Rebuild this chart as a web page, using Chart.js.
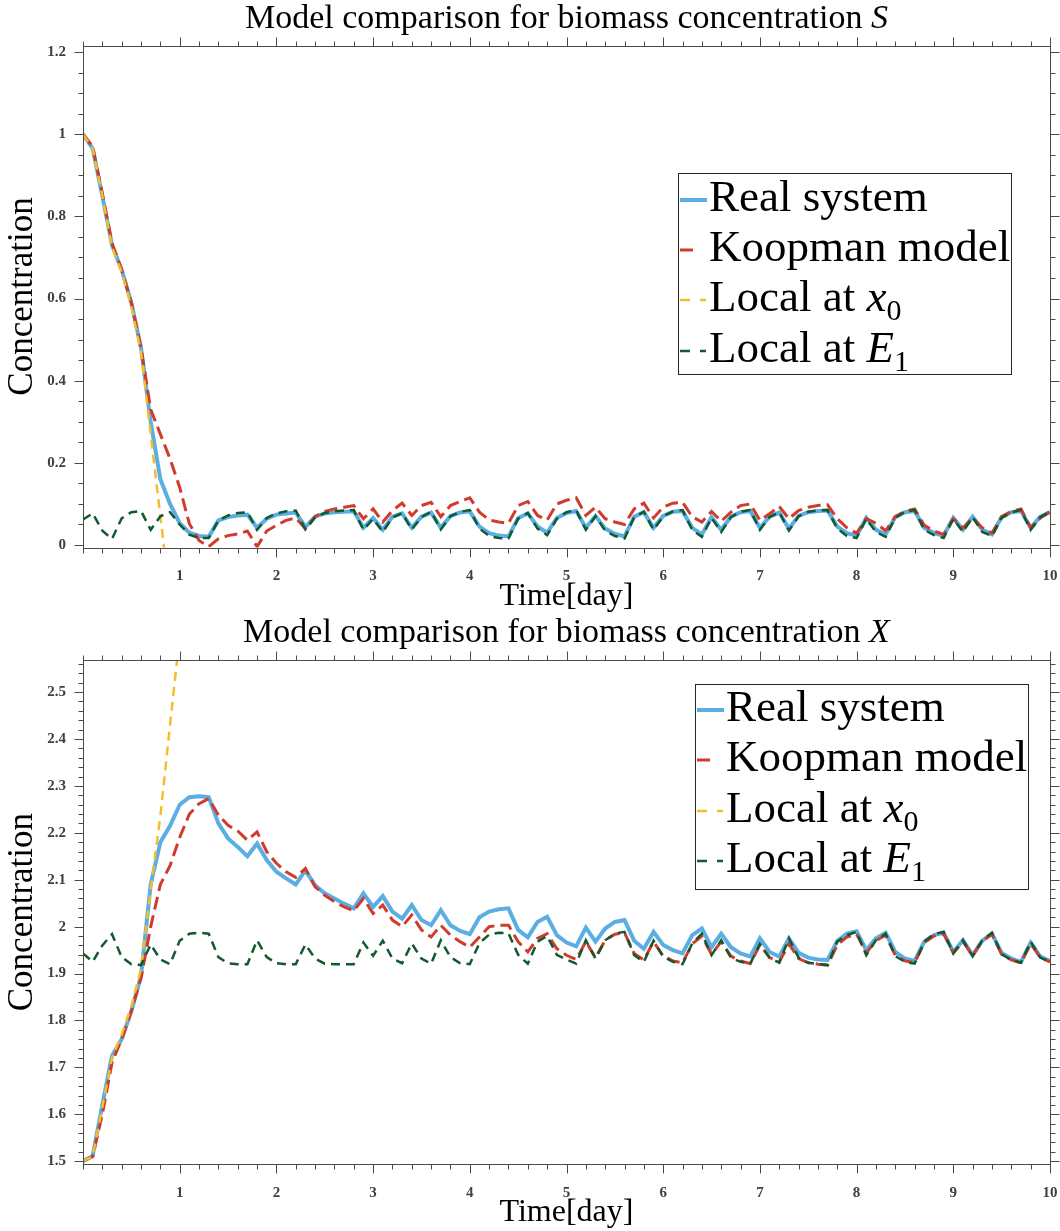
<!DOCTYPE html>
<html>
<head>
<meta charset="utf-8">
<title>Model comparison for biomass concentration</title>
<script src="https://cdn.jsdelivr.net/npm/chart.js@4.4.1/dist/chart.umd.min.js"></script>
<style>
  body { margin: 0; background: #fff; }
  #page { position: relative; width: 1060px; height: 1231px; font-family: 'Liberation Serif', 'Times New Roman', serif; color: #000; }
  .panel { position: absolute; left: 0; width: 1060px; }
  .panel canvas { position: absolute; left: 0; top: 0; }
  .plot-title { position: absolute; left: 83px; width: 967px; text-align: center; font-size: 34px; line-height: 34px; white-space: nowrap; }
  .legend { position: absolute; box-sizing: border-box; border: 1px solid #262626; background: #fff; }
  .legend .row { position: absolute; left: 0; right: 0; height: 50px; font-size: 45px; line-height: 50px; white-space: nowrap; }
  .legend svg { position: absolute; left: 1px; top: 24px; }
  .legend span { position: absolute; left: 30px; top: 0; }
  .legend sub { font-size: 30px; vertical-align: baseline; position: relative; top: 9px; }
</style>
</head>
<body>
<div id="page">
  <div class="panel" style="top:0; height:615px;">
    <canvas id="chartS" width="1060" height="615"></canvas>
    <div class="plot-title" style="top:0px;">Model comparison for biomass concentration <i>S</i></div>
    <div class="legend" style="left:678px; top:173px; width:334px; height:202px;">
      <div class="row" style="top:-3px;"><svg width="28" height="10"><line x1="0" y1="5" x2="27" y2="5" stroke="#5AAEE3" stroke-width="4"/></svg><span>Real system</span></div>
      <div class="row" style="top:47px;"><svg width="28" height="10"><line x1="0" y1="5" x2="13" y2="5" stroke="#D13B2C" stroke-width="3"/></svg><span>Koopman model</span></div>
      <div class="row" style="top:97px;"><svg width="28" height="10"><line x1="0" y1="5" x2="26" y2="5" stroke="#F2BE2C" stroke-width="2.5" stroke-dasharray="10 10"/></svg><span>Local at <i>x</i><sub>0</sub></span></div>
      <div class="row" style="top:148px;"><svg width="28" height="10"><line x1="0" y1="5" x2="26" y2="5" stroke="#125A2E" stroke-width="2.5" stroke-dasharray="10 10"/></svg><span>Local at <i>E</i><sub>1</sub></span></div>
    </div>
  </div>
  <div class="panel" style="top:615px; height:616px;">
    <canvas id="chartX" width="1060" height="616"></canvas>
    <div class="plot-title" style="top:-1px;">Model comparison for biomass concentration <i>X</i></div>
    <div class="legend" style="left:695px; top:69px; width:334px; height:206px;">
      <div class="row" style="top:-4px;"><svg width="28" height="10"><line x1="0" y1="5" x2="27" y2="5" stroke="#5AAEE3" stroke-width="4"/></svg><span>Real system</span></div>
      <div class="row" style="top:46px;"><svg width="28" height="10"><line x1="0" y1="5" x2="13" y2="5" stroke="#D13B2C" stroke-width="3"/></svg><span>Koopman model</span></div>
      <div class="row" style="top:97px;"><svg width="28" height="10"><line x1="0" y1="5" x2="26" y2="5" stroke="#F2BE2C" stroke-width="2.5" stroke-dasharray="10 10"/></svg><span>Local at <i>x</i><sub>0</sub></span></div>
      <div class="row" style="top:147px;"><svg width="28" height="10"><line x1="0" y1="5" x2="26" y2="5" stroke="#125A2E" stroke-width="2.5" stroke-dasharray="10 10"/></svg><span>Local at <i>E</i><sub>1</sub></span></div>
    </div>
  </div>
</div>
<script>
// time axis [day]
var time = [0, 0.1, 0.2, 0.3, 0.4, 0.5, 0.6, 0.7, 0.8, 0.9,
    1, 1.1, 1.2, 1.3, 1.4, 1.5, 1.6, 1.7, 1.8, 1.9,
    2, 2.1, 2.2, 2.3, 2.4, 2.5, 2.6, 2.7, 2.8, 2.9,
    3, 3.1, 3.2, 3.3, 3.4, 3.5, 3.6, 3.7, 3.8, 3.9,
    4, 4.1, 4.2, 4.3, 4.4, 4.5, 4.6, 4.7, 4.8, 4.9,
    5, 5.1, 5.2, 5.3, 5.4, 5.5, 5.6, 5.7, 5.8, 5.9,
    6, 6.1, 6.2, 6.3, 6.4, 6.5, 6.6, 6.7, 6.8, 6.9,
    7, 7.1, 7.2, 7.3, 7.4, 7.5, 7.6, 7.7, 7.8, 7.9,
    8, 8.1, 8.2, 8.3, 8.4, 8.5, 8.6, 8.7, 8.8, 8.9,
    9, 9.1, 9.2, 9.3, 9.4, 9.5, 9.6, 9.7, 9.8, 9.9, 10];

var seriesNames = ['Real system', 'Koopman model', 'Local at x0', 'Local at E1'];

// concentration S
var realS = [1.0, 0.965, 0.85, 0.73, 0.67, 0.59, 0.48, 0.3, 0.16, 0.1,
    0.053, 0.03, 0.022, 0.02, 0.06, 0.068, 0.072, 0.074, 0.042, 0.064,
    0.074, 0.077, 0.079, 0.044, 0.069, 0.077, 0.08, 0.081, 0.082, 0.042,
    0.066, 0.037, 0.069, 0.077, 0.042, 0.069, 0.079, 0.042, 0.071, 0.079,
    0.082, 0.045, 0.029, 0.023, 0.021, 0.066, 0.077, 0.045, 0.03, 0.066,
    0.078, 0.083, 0.042, 0.071, 0.04, 0.027, 0.021, 0.069, 0.08, 0.042,
    0.071, 0.081, 0.083, 0.042, 0.026, 0.068, 0.037, 0.069, 0.08, 0.083,
    0.042, 0.069, 0.079, 0.04, 0.071, 0.08, 0.083, 0.084, 0.045, 0.029,
    0.023, 0.066, 0.037, 0.026, 0.068, 0.08, 0.083, 0.042, 0.029, 0.023,
    0.066, 0.037, 0.069, 0.037, 0.026, 0.068, 0.08, 0.083, 0.042, 0.069, 0.08];
var koopmanS = [1.0, 0.97, 0.855, 0.735, 0.67, 0.59, 0.48, 0.33, 0.27, 0.21,
    0.14, 0.052, 0.011, -0.004, 0.015, 0.023, 0.027, 0.034, -0.004, 0.034,
    0.048, 0.06, 0.066, 0.04, 0.069, 0.082, 0.088, 0.092, 0.096, 0.064,
    0.088, 0.056, 0.084, 0.102, 0.072, 0.096, 0.104, 0.069, 0.096, 0.106,
    0.115, 0.08, 0.061, 0.056, 0.053, 0.096, 0.106, 0.072, 0.061, 0.1,
    0.109, 0.115, 0.072, 0.092, 0.064, 0.056, 0.05, 0.088, 0.102, 0.066,
    0.092, 0.102, 0.104, 0.069, 0.056, 0.082, 0.058, 0.08, 0.096, 0.1,
    0.06, 0.076, 0.094, 0.064, 0.084, 0.092, 0.096, 0.098, 0.064, 0.042,
    0.029, 0.064, 0.053, 0.035, 0.069, 0.082, 0.088, 0.048, 0.034, 0.026,
    0.064, 0.042, 0.066, 0.042, 0.029, 0.069, 0.082, 0.088, 0.042, 0.066, 0.082];
var localX0S = [1.0, 0.965, 0.85, 0.725, 0.665, 0.58, 0.47, 0.27, 0.07, -0.13];
var localE1S = [0.062, 0.077, 0.035, 0.015, 0.065, 0.08, 0.083, 0.037, 0.07, 0.08,
    0.05, 0.025, 0.017, 0.017, 0.06, 0.072, 0.078, 0.08, 0.037, 0.066,
    0.077, 0.082, 0.084, 0.038, 0.067, 0.078, 0.082, 0.084, 0.085, 0.037,
    0.064, 0.032, 0.067, 0.078, 0.038, 0.068, 0.081, 0.038, 0.07, 0.081,
    0.085, 0.04, 0.022, 0.017, 0.016, 0.064, 0.078, 0.04, 0.024, 0.064,
    0.08, 0.085, 0.037, 0.07, 0.035, 0.022, 0.016, 0.068, 0.081, 0.037,
    0.07, 0.082, 0.085, 0.037, 0.02, 0.066, 0.032, 0.068, 0.081, 0.085,
    0.037, 0.068, 0.08, 0.035, 0.07, 0.081, 0.084, 0.085, 0.04, 0.022,
    0.017, 0.064, 0.032, 0.02, 0.066, 0.081, 0.085, 0.037, 0.024, 0.017,
    0.064, 0.032, 0.068, 0.032, 0.022, 0.066, 0.08, 0.085, 0.037, 0.068, 0.08];

// concentration X
var realX = [1.5, 1.511, 1.62, 1.725, 1.76, 1.82, 1.895, 2.09, 2.18, 2.215,
    2.26, 2.276, 2.278, 2.276, 2.22, 2.188, 2.17, 2.15, 2.177, 2.142,
    2.117, 2.103, 2.09, 2.12, 2.088, 2.071, 2.06, 2.049, 2.039, 2.071,
    2.042, 2.065, 2.032, 2.017, 2.046, 2.014, 2.003, 2.035, 2.003, 1.991,
    1.984, 2.02, 2.032, 2.037, 2.039, 1.993, 1.977, 2.01, 2.021, 1.982,
    1.966, 1.958, 1.998, 1.968, 1.996, 2.01, 2.014, 1.97, 1.953, 1.989,
    1.961, 1.95, 1.943, 1.982, 1.996, 1.956, 1.985, 1.956, 1.943, 1.936,
    1.975, 1.946, 1.936, 1.975, 1.944, 1.934, 1.93, 1.929, 1.97, 1.985,
    1.99, 1.95, 1.975, 1.987, 1.946, 1.932, 1.927, 1.968, 1.982, 1.987,
    1.946, 1.971, 1.939, 1.97, 1.985, 1.944, 1.932, 1.925, 1.966, 1.936, 1.927];
var koopmanX = [1.5, 1.51, 1.6, 1.71, 1.76, 1.82, 1.89, 2.0, 2.09, 2.13,
    2.19, 2.24, 2.262, 2.273, 2.238, 2.216, 2.204, 2.184, 2.202, 2.16,
    2.135, 2.117, 2.105, 2.124, 2.085, 2.067, 2.053, 2.042, 2.034, 2.06,
    2.028, 2.046, 2.014, 2.0, 2.025, 1.993, 1.978, 2.003, 1.982, 1.968,
    1.956, 1.978, 2.0, 2.003, 2.003, 1.968, 1.946, 1.975, 1.985, 1.953,
    1.939, 1.93, 1.968, 1.934, 1.971, 1.984, 1.987, 1.943, 1.929, 1.968,
    1.937, 1.927, 1.923, 1.963, 1.98, 1.941, 1.968, 1.937, 1.927, 1.921,
    1.961, 1.934, 1.925, 1.963, 1.932, 1.923, 1.92, 1.918, 1.961, 1.978,
    1.984, 1.944, 1.97, 1.982, 1.939, 1.927, 1.923, 1.966, 1.98, 1.985,
    1.944, 1.968, 1.939, 1.97, 1.984, 1.941, 1.929, 1.923, 1.964, 1.934, 1.925];
var localX0X = [1.5, 1.51, 1.615, 1.72, 1.77, 1.83, 1.91, 2.08, 2.235, 2.43, 2.62];
var localE1X = [1.943, 1.925, 1.96, 1.984, 1.935, 1.92, 1.918, 1.962, 1.93, 1.92,
    1.97, 1.985, 1.987, 1.985, 1.935, 1.922, 1.92, 1.92, 1.971, 1.935,
    1.922, 1.92, 1.92, 1.962, 1.932, 1.921, 1.92, 1.92, 1.92, 1.966,
    1.938, 1.97, 1.932, 1.922, 1.964, 1.932, 1.921, 1.971, 1.935, 1.922,
    1.92, 1.965, 1.983, 1.987, 1.986, 1.94, 1.921, 1.968, 1.98, 1.94,
    1.93, 1.921, 1.971, 1.932, 1.971, 1.985, 1.989, 1.939, 1.925, 1.97,
    1.936, 1.925, 1.92, 1.964, 1.985, 1.939, 1.971, 1.934, 1.925, 1.921,
    1.963, 1.934, 1.923, 1.975, 1.934, 1.923, 1.92, 1.918, 1.968, 1.982,
    1.989, 1.939, 1.971, 1.985, 1.937, 1.925, 1.921, 1.968, 1.984, 1.989,
    1.943, 1.971, 1.937, 1.971, 1.987, 1.941, 1.929, 1.923, 1.968, 1.934, 1.925];

var blue = '#5AAEE3';
var red = '#D13B2C';
var yellow = '#F2BE2C';
var green = '#125A2E';
var axisColor = '#4a4a4a';
var serif = "'Liberation Serif', 'Times New Roman', serif";

Chart.defaults.font.family = serif;
Chart.defaults.animation = false;

// box around the plot with outward ticks on all four sides
var boxTicks = {
    id: 'boxTicks',
    afterDraw: function (chart) {
        var ctx = chart.ctx;
        var a = chart.chartArea;
        var x = chart.scales.x;
        var y = chart.scales.y;
        var L = Math.round(a.left) + 0.5, R = Math.round(a.right) + 0.5;
        var T = Math.round(a.top) + 0.5, B = Math.round(a.bottom) + 0.5;

        ctx.save();
        ctx.strokeStyle = axisColor;
        ctx.lineWidth = 1;
        ctx.strokeRect(L, T, R - L, B - T);
        ctx.beginPath();
        x.ticks.forEach(function (t) {
            var px = Math.round(x.getPixelForValue(t.value)) + 0.5;
            var len = t.label ? 9 : 5;
            ctx.moveTo(px, B); ctx.lineTo(px, B + len);
            ctx.moveTo(px, T); ctx.lineTo(px, T - len);
        });
        y.ticks.forEach(function (t) {
            var py = Math.round(y.getPixelForValue(t.value)) + 0.5;
            var len = t.label ? 9 : 5;
            ctx.moveTo(L, py); ctx.lineTo(L - len, py);
            ctx.moveTo(R, py); ctx.lineTo(R + len, py);
        });
        ctx.stroke();
        ctx.restore();
    }
};

function lineSet(label, data, color, width, dash, order) {
    return {
        label: label,
        data: data.map(function (v, i) { return {x: time[i], y: v}; }),
        borderColor: color,
        backgroundColor: color,
        borderWidth: width,
        borderDash: dash,
        pointRadius: 0,
        tension: 0,
        fill: false,
        order: order
    };
}

function drawPanel(canvasId, series, yMin, yMax, yStep, yMajor, plotTop, xHeight) {
    var tickFont = {family: serif, size: 15, weight: 'bold'};

    new Chart(document.getElementById(canvasId), {
        type: 'line',
        data: {
            datasets: [
                lineSet(seriesNames[0], series[0], blue, 4, [], 4),
                lineSet(seriesNames[1], series[1], red, 3, [13, 6], 3),
                lineSet(seriesNames[2], series[2], yellow, 2.5, [9, 6], 2),
                lineSet(seriesNames[3], series[3], green, 2.5, [9, 6], 1)
            ]
        },
        options: {
            responsive: false,
            layout: {padding: {top: plotTop, right: 10, bottom: 0, left: 0}},
            plugins: {
                legend: {display: false},
                tooltip: {enabled: false}
            },
            scales: {
                x: {
                    type: 'linear',
                    min: 0,
                    max: 10,
                    afterFit: function (scale) {
                        scale.height = xHeight;
                        scale.paddingLeft = 0;
                        scale.paddingRight = 0;
                    },
                    grid: {display: false, drawTicks: false},
                    border: {display: false},
                    ticks: {
                        stepSize: 0.2,
                        autoSkip: false,
                        maxRotation: 0,
                        includeBounds: false,
                        padding: 20,
                        color: '#404040',
                        font: tickFont,
                        callback: function (v) {
                            var r = Math.round(v * 1000) / 1000;
                            return (Number.isInteger(r) && r > 0) ? String(r) : '';
                        }
                    },
                    title: {
                        display: true,
                        text: 'Time[day]',
                        color: '#000',
                        font: {family: serif, size: 32, lineHeight: 1},
                        padding: {top: 0, bottom: 2}
                    }
                },
                y: {
                    type: 'linear',
                    min: yMin,
                    max: yMax,
                    afterFit: function (scale) {
                        scale.width = 83;
                        scale.paddingTop = 0;
                        scale.paddingBottom = 0;
                    },
                    grid: {display: false, drawTicks: false},
                    border: {display: false},
                    ticks: {
                        stepSize: yStep,
                        autoSkip: false,
                        includeBounds: false,
                        padding: 17,
                        color: '#404040',
                        font: tickFont,
                        callback: function (v) {
                            var k = v / yMajor;
                            if (Math.abs(k - Math.round(k)) > 1e-6) {
                                return '';
                            }
                            return String(Math.round(Math.round(k) * yMajor * 10) / 10);
                        }
                    },
                    title: {
                        display: true,
                        text: 'Concentration',
                        color: '#000',
                        font: {family: serif, size: 35, lineHeight: 1},
                        padding: {top: 5, bottom: 0}
                    }
                }
            }
        },
        plugins: [boxTicks]
    });
}

drawPanel('chartS', [realS, koopmanS, localX0S, localE1S], -0.006, 1.216, 0.05, 0.2, 45.5, 67.5);
drawPanel('chartX', [realX, koopmanX, localX0X, localE1X], 1.494, 2.568, 0.02, 0.1, 45.2, 67);
</script>
</body>
</html>
